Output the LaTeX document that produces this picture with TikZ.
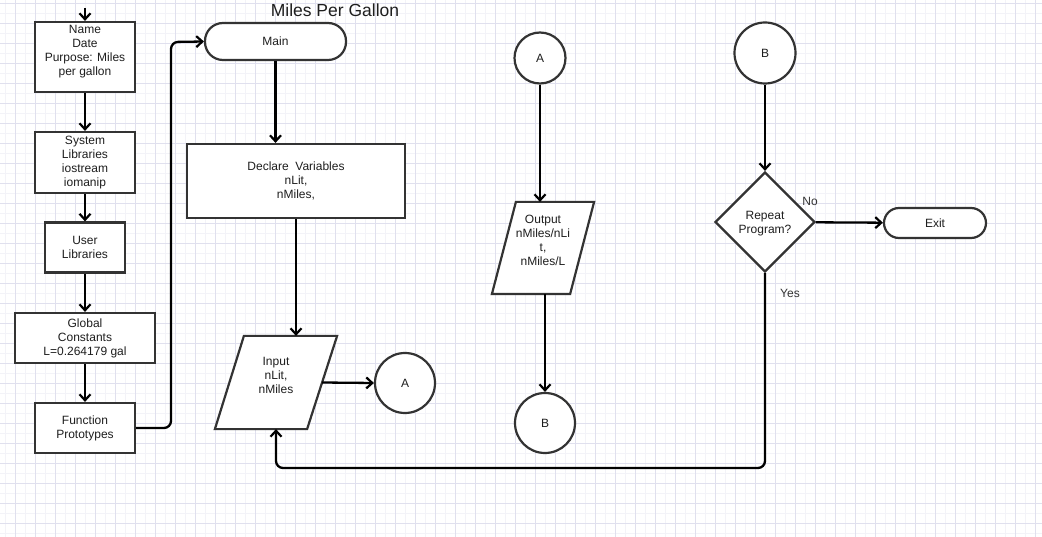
\documentclass[tikz,border=0pt]{standalone}
\usepackage{fontspec}
\setmainfont{Liberation Sans}
\usetikzlibrary{shapes.geometric,arrows.meta,calc}
\definecolor{gridmaj}{HTML}{E0E0EE}
\definecolor{gridmin}{HTML}{F3F3F8}
\definecolor{strokec}{HTML}{333333}
\definecolor{txt}{HTML}{1E1E1E}
\begin{document}
\begin{tikzpicture}[x=1pt,y=-1pt,
  box/.style={draw=strokec,line width=2.2pt,fill=white,text=txt,align=center,
    font=\fontsize{12}{14}\selectfont,inner sep=0pt},
  term/.style={box,rounded corners=#1},
  conn/.style={box,circle,minimum size=#1},
  iotext/.style={box,draw=none,fill=none},
  ioshape/.style={draw=strokec,line width=2.2pt,fill=white,line join=miter},
  dec/.style={box,diamond,aspect=1,minimum width=100pt,minimum height=100pt},
  arr/.style={line width=2.3pt,-{Straight Barb[length=6pt,width=11pt,line width=2.2pt]}},
  lab/.style={text=strokec,font=\fontsize{12}{14}\selectfont,inner sep=0pt}
]
\useasboundingbox (0,0) rectangle (1042,537);
\fill[white] (0,0) rectangle (1042,537);
% grid
\foreach \x in {5,25,...,1045} \draw[gridmin,line width=0.6pt] (\x,0) -- (\x,537);
\foreach \y in {13,33,...,537} \draw[gridmin,line width=0.6pt] (0,\y) -- (1042,\y);
\foreach \x in {15,35,...,1042} \draw[gridmaj,line width=0.8pt] (\x,0) -- (\x,537);
\foreach \y in {3,23,...,537} \draw[gridmaj,line width=0.8pt] (0,\y) -- (1042,\y);

% title
\node[text=txt,font=\fontsize{17.5}{20}\selectfont,inner sep=0pt] (title) at (335,10) {Miles Per Gallon};

% left column
\node[box,minimum width=100pt,minimum height=70pt] (name) at (85,57) {Name\\Date\\Purpose: Miles\\per gallon\\[-1pt]\mbox{}};
\node[box,minimum width=100pt,minimum height=61pt] (sys) at (85,162.5) {System\\Libraries\\iostream\\iomanip};
\node[box,minimum width=80pt,minimum height=50pt] (user) at (85,247.5) {User\\Libraries};
\node[box,minimum width=140pt,minimum height=50pt] (glob) at (85,338) {Global\\Constants\\L=0.264179 gal};
\node[box,minimum width=100pt,minimum height=50pt] (proto) at (85,428) {Function\\Prototypes};

% middle
\node[term=18pt,minimum width=141pt,minimum height=37pt] (main) at (275.5,41.5) {Main};
\node[box,minimum width=218pt,minimum height=74pt] (decl) at (296,181) {Declare\ \ Variables\\nLit,\\nMiles,};
\node[iotext,minimum width=120pt,minimum height=91pt] (inp) at (276,382.5) {};
\draw[ioshape] ($(inp.north west)+(29,0)$) -- (inp.north east) -- ($(inp.south east)+(-30,0)$) -- (inp.south west) -- cycle;
\node[iotext] (inptext) at (276,375) {Input\\nLit,\\nMiles};
\coordinate (inpR) at ($(inp.east)+(-15,0)$);
\node[conn=60pt] (A1) at (405,383) {A};

% right-middle
\node[conn=51pt] (A2) at (540,58) {A};
\node[iotext,minimum width=100pt,minimum height=90pt] (out) at (543,248) {};
\draw[ioshape] ($(out.north west)+(24,0)$) -- (out.north east) -- ($(out.south east)+(-24,0)$) -- (out.south west) -- cycle;
\node[iotext] (outtext) at (543,240) {Output\\nMiles/nLi\\t,\\nMiles/L};
\node[conn=60pt] (B1) at (545,423) {B};

% right
\node[conn=61pt] (B2) at (765,53) {B};
\node[dec] (rep) at (765,222) {\\[-3pt]Repeat\\Program?};
\node[term=15pt,minimum width=102pt,minimum height=30pt] (exit) at (935,223) {Exit};
\node[lab] (no) at (810,201) {No};
\node[lab] (yes) at (790,293) {Yes};

% connectors
\coordinate (start) at (85,8);
\coordinate (rail) at (171,42);
\coordinate (loopy) at (0,468);
\draw[arr] (start) -- (name);
\draw[arr] (name) -- (sys);
\draw[arr] (sys) -- (user);
\draw[arr] (user) -- (glob);
\draw[arr] (glob) -- (proto);
\draw[arr,rounded corners=7pt] (proto.east) -| (rail) -- (main.west);
\draw[arr] (main.south) -- (main.south |- decl.north);
\draw[arr] (decl.south) -- (decl.south |- inp.north);
\draw[arr] (inpR) -- (A1.west);
\draw[arr] (A2.south) -- (A2.south |- out.north);
\draw[arr] (B1.north |- out.south) -- (B1.north);
\draw[arr] (B2) -- (rep);
\draw[arr] (rep) -- (exit);
\draw[arr,rounded corners=7pt] (rep.south) -- (rep.south |- loopy) -| (inp.south);
\end{tikzpicture}
\end{document}
